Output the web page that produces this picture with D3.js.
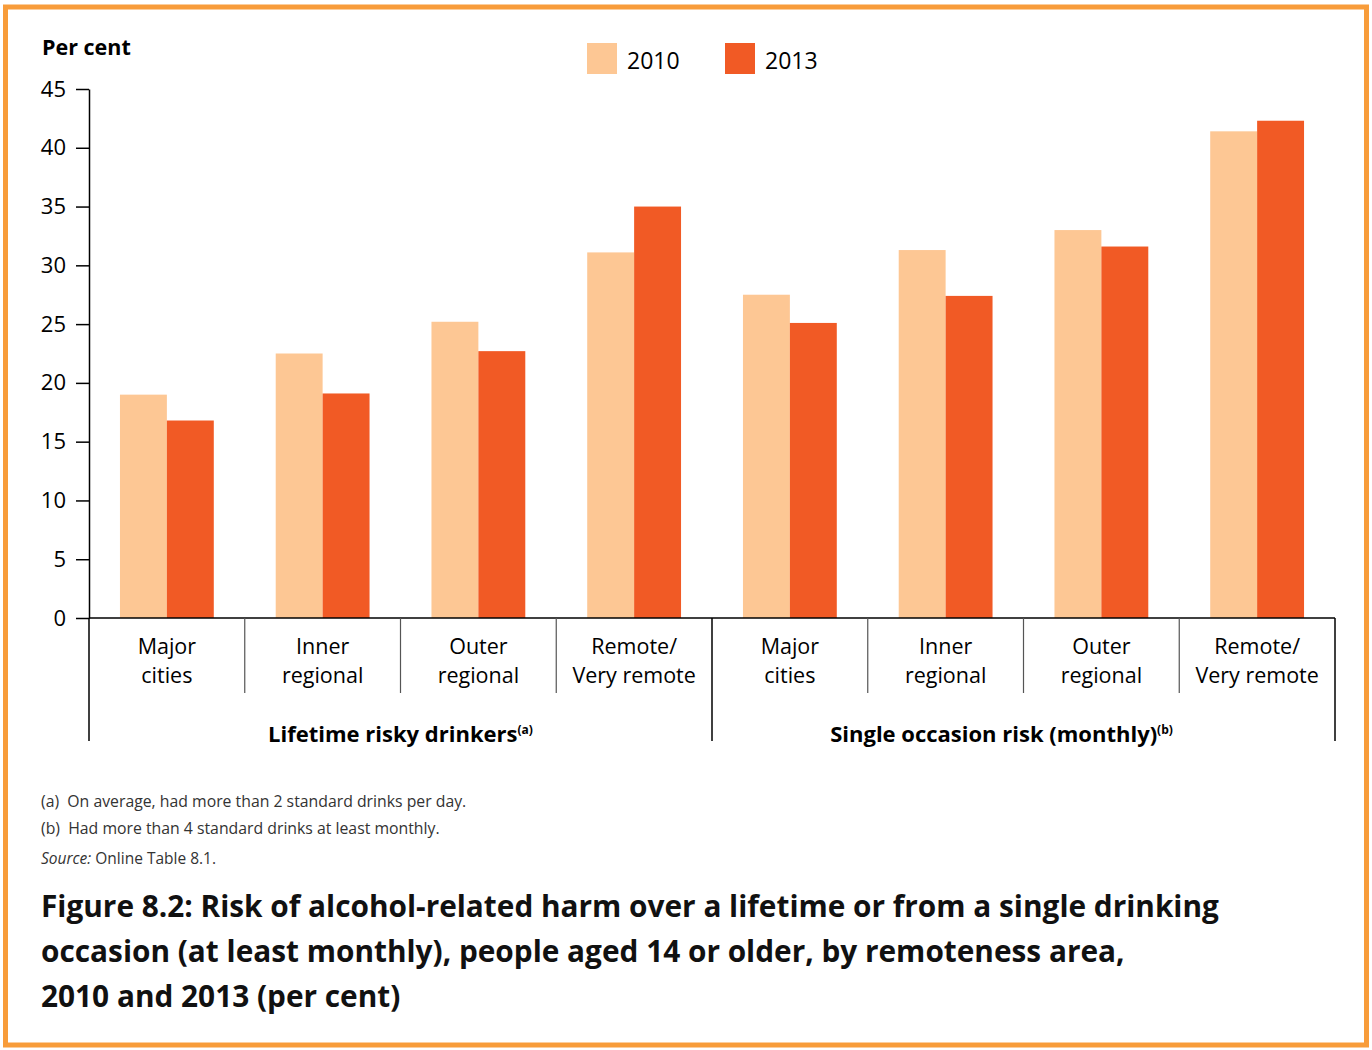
<!DOCTYPE html>
<html>
<head>
<meta charset="utf-8">
<script src="https://cdn.jsdelivr.net/npm/d3@7"></script>
<style>
  body { margin: 0; background: #fff; }
  svg { display: block; font-family: "Open Sans", "Noto Sans", sans-serif; }
</style>
</head>
<body>
<div id="chart"></div>
<script>
// data
var groups = ["Lifetime risky drinkers", "Single occasion risk (monthly)"];
var groupNotes = ["(a)", "(b)"];
var areas = [["Major", "cities"], ["Inner", "regional"], ["Outer", "regional"], ["Remote/", "Very remote"]];
var years = ["2010", "2013"];
var values2010 = [19.0, 22.5, 25.2, 31.1, 27.5, 31.3, 33.0, 41.4];
var values2013 = [16.8, 19.1, 22.7, 35.0, 25.1, 27.4, 31.6, 42.3];
var yTicks = [0, 5, 10, 15, 20, 25, 30, 35, 40, 45];
var footnotes = ["(a)  On average, had more than 2 standard drinks per day.",
                 "(b)  Had more than 4 standard drinks at least monthly."];
var titleLines = ["Figure 8.2: Risk of alcohol-related harm over a lifetime or from a single drinking",
                  "occasion (at least monthly), people aged 14 or older, by remoteness area,",
                  "2010 and 2013 (per cent)"];

var colors = {"2010": "#fdc794", "2013": "#f15a25"};

var W = 1372, H = 1050;
var plotLeft = 89, plotRight = 1335, plotTop = 89, plotBottom = 618;

var svg = d3.select("#chart").append("svg")
    .attr("width", W)
    .attr("height", H);

// orange frame
svg.append("rect")
    .attr("x", 5.5).attr("y", 7)
    .attr("width", W - 11).attr("height", H - 12)
    .attr("fill", "none")
    .attr("stroke", "#f89c3a")
    .attr("stroke-width", 5);

var cats = d3.range(values2010.length);
var rows = cats.map(function(i) {
    return {i: i, area: areas[i % 4], group: Math.floor(i / 4), v2010: values2010[i], v2013: values2013[i]};
});

var x = d3.scaleBand().domain(cats).range([plotLeft, plotRight]).paddingInner(0).paddingOuter(0);
var xIn = d3.scaleBand().domain(years).range([0, x.bandwidth()]).paddingInner(0).paddingOuter(0.66);
var y = d3.scaleLinear().domain([0, 45]).range([plotBottom, plotTop]);

// bars
var cat = svg.selectAll(".cat")
    .data(rows)
    .enter().append("g")
    .attr("class", "cat")
    .attr("transform", function(d) { return "translate(" + x(d.i) + ",0)"; });

cat.selectAll("rect")
    .data(function(d) { return [{k: "2010", v: d.v2010}, {k: "2013", v: d.v2013}]; })
    .enter().append("rect")
    .attr("x", function(d) { return xIn(d.k); })
    .attr("width", xIn.bandwidth())
    .attr("y", function(d) { return y(d.v); })
    .attr("height", function(d) { return y(0) - y(d.v); })
    .attr("fill", function(d) { return colors[d.k]; });

// y axis
var yAxis = svg.append("g")
    .attr("transform", "translate(" + plotLeft + ",0)")
    .call(d3.axisLeft(y).tickValues(yTicks).tickSize(13).tickPadding(10).tickSizeOuter(0));
yAxis.select(".domain").attr("stroke", "#000").attr("stroke-width", 1.5);
yAxis.selectAll(".tick line").attr("stroke", "#000").attr("stroke-width", 1.5);
yAxis.selectAll(".tick text")
    .attr("fill", "#000")
    .style("font-size", "22px")
    .style("font-family", "'Open Sans', sans-serif");

svg.append("text")
    .attr("x", 42).attr("y", 55)
    .style("font-size", "21.5px").style("font-weight", "bold")
    .text("Per cent");

// baseline
svg.append("line")
    .attr("x1", plotLeft).attr("x2", plotRight)
    .attr("y1", plotBottom).attr("y2", plotBottom)
    .attr("stroke", "#000").attr("stroke-width", 1.5);

// category separators
cats.concat([cats.length]).forEach(function(i) {
    var xp = i < cats.length ? x(i) : plotRight;
    var outer = (i % 4 === 0);
    svg.append("line")
        .attr("x1", xp).attr("x2", xp)
        .attr("y1", plotBottom).attr("y2", outer ? 741 : 693)
        .attr("stroke", outer ? "#000" : "#555")
        .attr("stroke-width", outer ? 1.5 : 1.2);
});

// category labels
cat.append("text")
    .attr("text-anchor", "middle")
    .attr("x", x.bandwidth() / 2)
    .style("font-size", "21.5px")
    .selectAll("tspan")
    .data(function(d) { return d.area; })
    .enter().append("tspan")
    .attr("x", x.bandwidth() / 2)
    .attr("y", function(d, j) { return 654 + j * 29; })
    .text(function(d) { return d; });

// group labels (the second one sits a bit left of its span in the original)
var groupCentres = [(x(0) + x(4)) / 2, (x(4) + plotRight) / 2 - 22];
groups.forEach(function(g, j) {
    var t = svg.append("text")
        .attr("x", groupCentres[j])
        .attr("y", 742)
        .attr("text-anchor", "middle")
        .style("font-size", "22px").style("font-weight", "bold")
        .text(g);
    t.append("tspan")
        .attr("dy", -8)
        .style("font-size", "12px")
        .text(groupNotes[j]);
});

// legend
var legend = svg.selectAll(".legend")
    .data(years)
    .enter().append("g")
    .attr("class", "legend")
    .attr("transform", function(d, i) { return "translate(" + (587 + i * 138) + ",43)"; });
legend.append("rect")
    .attr("width", 30).attr("height", 31)
    .attr("fill", function(d) { return colors[d]; });
legend.append("text")
    .attr("x", 40).attr("y", 26)
    .style("font-size", "23px")
    .text(function(d) { return d; });

// footnotes
footnotes.forEach(function(f, i) {
    svg.append("text")
        .attr("x", 41).attr("y", 807 + i * 27)
        .attr("fill", "#333")
        .style("font-size", "15.8px")
        .style("white-space", "pre")
        .text(f);
});
var src = svg.append("text")
    .attr("x", 41).attr("y", 864)
    .attr("fill", "#333")
    .style("font-size", "15.5px");
src.append("tspan").style("font-style", "italic").text("Source:");
src.append("tspan").text(" Online Table 8.1.");

// title
titleLines.forEach(function(t, i) {
    svg.append("text")
        .attr("x", 41).attr("y", 917 + i * 45)
        .style("font-size", "29.8px").style("font-weight", "bold")
        .attr("fill", "#111")
        .text(t);
});
</script>
</body>
</html>
